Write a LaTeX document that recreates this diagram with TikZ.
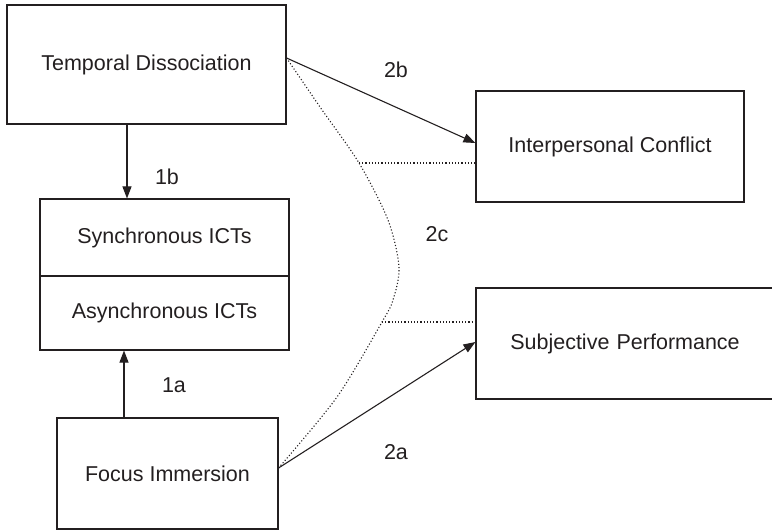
\documentclass[tikz,border=0pt]{standalone}
\usepackage{fontspec}
\setmainfont{Liberation Sans}
\usetikzlibrary{arrows.meta}
\definecolor{ink}{RGB}{35,31,32}
\tikzset{
  box/.style={draw=ink, line width=1.1pt, inner sep=0pt, text=ink,
    font=\fontsize{21.5}{25}\selectfont},
  lbl/.style={text=ink, inner sep=0pt, font=\fontsize{21.5}{25}\selectfont},
  arr/.style={draw=ink, line width=1.1pt, -{Triangle[length=12pt,width=9pt]}},
  dot/.style={draw=ink, line width=1.1pt, dash pattern=on 1.1pt off 2.1pt}
}
\begin{document}
\begin{tikzpicture}[x=1pt,y=-1pt]
\useasboundingbox (0,0) rectangle (772,532);
\node[box, minimum width=279pt, minimum height=119pt] (td) at (146.5,64.5) {Temporal Dissociation};
\node[box, minimum width=249pt, minimum height=77pt] (sync) at (164.5,237.5) {Synchronous ICTs};
\node[box, minimum width=249pt, minimum height=74pt] (async) at (164.5,313) {Asynchronous ICTs};
\node[box, minimum width=221pt, minimum height=111pt] (fi) at (167.5,473.5) {Focus Immersion};
\node[box, minimum width=268pt, minimum height=111pt] (ic) at (610,146.5) {Interpersonal Conflict};
\node[box, minimum width=310pt, minimum height=111pt, text width=298pt, align=center] (sp) at (631,343.5) {\hspace*{-12pt}Subjective Performance};

\node[lbl] (l2b) at (396,70) {2b};
\node[lbl] (l1b) at (167,177) {1b};
\node[lbl] (l2c) at (437,234) {2c};
\node[lbl] (l1a) at (174,385) {1a};
\node[lbl] (l2a) at (396,452) {2a};

% connector end points
\coordinate (tdE) at (td.east |- 0,58);
\coordinate (fiE) at (fi.east |- 0,468);
\coordinate (icW) at (ic.west |- 0,143);
\coordinate (spW) at (sp.west |- 0,342);
\coordinate (icD) at (ic.west |- 0,163);
\coordinate (spD) at (sp.west |- 0,322);
\coordinate (cu) at (359,163);
\coordinate (cl) at (382,322);

\draw[arr] (td.south -| 127,0) -- (sync.north -| 127,0);
\draw[arr] (fi.north -| 124,0) -- (async.south -| 124,0);
\draw[arr] (tdE) -- (icW);
\draw[arr] (fiE) -- (spW);

\draw[dot] plot[smooth, tension=0.5] coordinates {(tdE) (320,107) (cu) (388,220) (399,267) (393,300) (cl) (337,397) (fiE)};
\draw[dot] (cu) -- (icD);
\draw[dot] (cl) -- (spD);
\end{tikzpicture}
\end{document}
